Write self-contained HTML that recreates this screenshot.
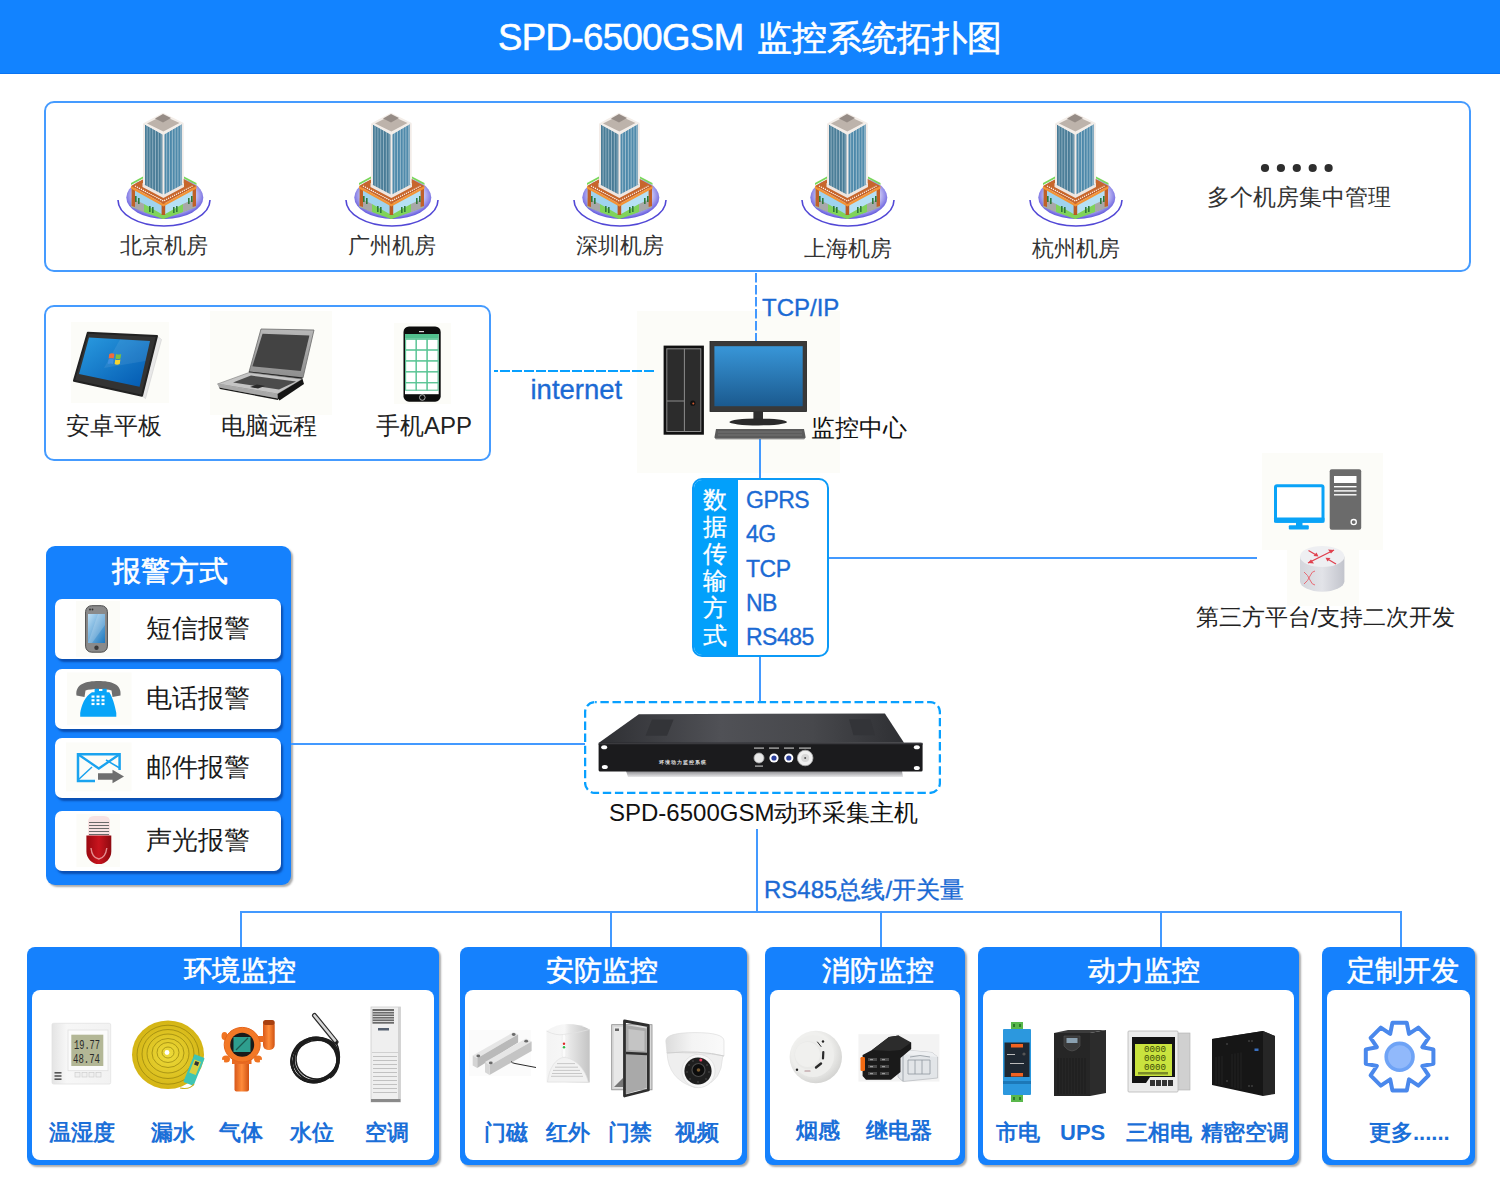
<!DOCTYPE html>
<html><head><meta charset="utf-8">
<style>
*{margin:0;padding:0;box-sizing:border-box}
html,body{width:1500px;height:1200px;overflow:hidden;background:#fff}
body{position:relative;font-family:"Liberation Sans",sans-serif;color:#222}
.a{position:absolute}
.t{position:absolute;white-space:nowrap;line-height:1}
.wb{-webkit-text-stroke:0.6px #fff}
.hdr{left:0;top:0;width:1500px;height:74px;background:#1283ff;border-bottom:1px solid #0a74f2}
.frame{position:absolute;border:2px solid #459bff;border-radius:10px}
.ln{position:absolute;background:#4399ff}
.bbox{position:absolute;top:946.5px;height:218.5px;background:#1581fd;border-radius:8px;box-shadow:2px 2px 2px rgba(0,0,0,.33)}
.bbox .inner{position:absolute;left:5px;right:5px;top:43px;bottom:5px;background:#fff;border-radius:8px}
.bbox .ttl{position:absolute;left:0;right:0;top:9px;text-align:center;color:#fff;font-size:27.5px;line-height:30px;white-space:nowrap;-webkit-text-stroke:0.6px #fff}
.lab{position:absolute;color:#1b6fd8;font-weight:bold;font-size:22px;line-height:1;white-space:nowrap}
.item{position:absolute;left:9px;width:226px;height:60px;background:#fff;border-radius:7px;box-shadow:2px 3px 2px rgba(0,40,120,.55)}
.item .tx{position:absolute;left:91px;top:17px;font-size:25.5px;line-height:1;color:#1a1a1a;white-space:nowrap}
.bl{color:#1b6ad4;-webkit-text-stroke:0.35px #1b6ad4}
.cap{color:#333;font-size:22px}
.imgbg{position:absolute;background:#fcfcf8}
</style></head><body>


<svg width="0" height="0" style="position:absolute">
<defs>
  <pattern id="stripeL" patternUnits="userSpaceOnUse" width="2.8" height="10">
    <rect width="2.9" height="10" fill="#487b96"/><rect x="1.8" width="1.1" height="10" fill="#8fb0c1"/>
  </pattern>
  <pattern id="stripeR" patternUnits="userSpaceOnUse" width="2.8" height="10">
    <rect width="2.9" height="10" fill="#4c88aa"/><rect x="1.8" width="1.1" height="10" fill="#9bbccd"/>
  </pattern>
  <radialGradient id="disc" cx="50%" cy="45%" r="55%">
    <stop offset="0.6" stop-color="#ffffff"/><stop offset="1" stop-color="#5a50dc"/>
  </radialGradient>
  <symbol id="bld" viewBox="0 0 100 124">
    <path d="M4 92 A46 26 0 0 0 96 92" fill="none" stroke="#5248d6" stroke-width="1.6"/>
    <ellipse cx="50.8" cy="89.5" rx="38.5" ry="21.5" fill="url(#disc)"/>
    <!-- pavement / ground -->
    <polygon points="17.6,99 49.4,111 82,99 82,96 49.4,108 17.6,96" fill="#6cc84c"/>
    <!-- podium faces -->
    <polygon points="17.6,79 49.4,96 49.4,107 17.6,99" fill="#9fd3ee"/>
    <polygon points="49.4,96 82,79 82,99 49.4,107" fill="#b6e0f4"/>
    <polygon points="17.6,90 30,96 30,104 17.6,99" fill="#a8a8a8"/>
    <polygon points="69,96 82,90 82,99 69,104" fill="#a8a8a8"/>
    <polygon points="30,96 49.4,107 69,96 69,104 49.4,111 30,104" fill="#7fd35a"/>
    <rect x="47.6" y="95" width="3.6" height="12" fill="#b85a24"/>
    <polygon points="17.6,78 21,79.5 21,99 17.6,98" fill="#c06028"/>
    <polygon points="82,78 78.6,79.5 78.6,99 82,98" fill="#c06028"/>
    <g fill="#2f7a3a"><rect x="21" y="88" width="1.6" height="6"/><rect x="24" y="90" width="1.6" height="6"/><rect x="35" y="98" width="1.6" height="6"/><rect x="38" y="99" width="1.6" height="6"/><rect x="59" y="99" width="1.6" height="6"/><rect x="62" y="98" width="1.6" height="6"/><rect x="74" y="90" width="1.6" height="6"/><rect x="77" y="88" width="1.6" height="6"/></g>
    <!-- podium top -->
    <polygon points="17,78 49.4,60 82.5,78 49.4,96" fill="#c7662c"/>
    <polygon points="17,78 49.4,96 82.5,78 82.5,80.5 49.4,98.5 17,80.5" fill="#f49334"/>
    <polyline points="21,78 49.4,93 78.5,78" fill="none" stroke="#ffffff" stroke-width="1.2" stroke-dasharray="1.2 1"/>
    <polygon points="17,75 29,68.5 29,70.5 17,77" fill="#79d65a"/>
    <polygon points="82.5,75 70,68.5 70,70.5 82.5,77" fill="#79d65a"/>
    <!-- tower base -->
    <polygon points="28.5,75 49.4,86 70,75 70,79 49.4,90 28.5,79" fill="#efe6e0"/>
    <!-- tower faces -->
    <polygon points="30,16 49.4,26.3 49.4,86.8 30,76.4" fill="url(#stripeL)"/>
    <polygon points="49.4,26.3 68.7,15.5 68.7,76.4 49.4,86.8" fill="url(#stripeR)"/>
    <polygon points="48.4,26 50.4,26 50.4,87 48.4,87" fill="#f3ece8"/>
    <polygon points="29,15.5 31,16.5 31,77 29,76" fill="#f3ece8"/>
    <polygon points="67.7,16 69.7,15 69.7,76 67.7,77" fill="#f3ece8"/>
    <!-- roof -->
    <polygon points="29,15.5 49,4.8 69.7,15 49.4,27" fill="#f4eee9"/>
    <polygon points="33,15.5 49,7.5 65.5,15 49.4,23.5" fill="#bdb3ab"/>
    <polygon points="41,10.5 49,6 57,10 49,14.5" fill="#968c86"/>
  </symbol>
</defs>
</svg>

<!-- header -->
<div class="a hdr"></div>
<div class="t wb" style="left:498px;top:20px;color:#fff;font-size:36.5px;letter-spacing:-0.55px">SPD-6500GSM</div>
<div class="t wb" style="left:757px;top:20px;color:#fff;font-size:35.3px">监控系统拓扑图</div>

<div class="imgbg" style="left:637px;top:311px;width:203px;height:162px"></div>
<div class="imgbg" style="left:1262px;top:453px;width:121px;height:97px"></div>
<div class="imgbg" style="left:1287px;top:550px;width:72px;height:56px"></div>
<div class="imgbg" style="left:71px;top:322px;width:98px;height:81px"></div>
<div class="imgbg" style="left:210px;top:311px;width:122px;height:104px"></div>
<div class="imgbg" style="left:394px;top:323px;width:57px;height:81px"></div>
<!-- box 1 -->
<div class="frame" style="left:44px;top:101px;width:1427px;height:171px"></div>
<svg class="a" style="left:114px;top:108px" width="100" height="124" viewBox="0 0 100 124"><use href="#bld"/></svg>
<svg class="a" style="left:342px;top:108px" width="100" height="124" viewBox="0 0 100 124"><use href="#bld"/></svg>
<svg class="a" style="left:570px;top:108px" width="100" height="124" viewBox="0 0 100 124"><use href="#bld"/></svg>
<svg class="a" style="left:798px;top:108px" width="100" height="124" viewBox="0 0 100 124"><use href="#bld"/></svg>
<svg class="a" style="left:1026px;top:108px" width="100" height="124" viewBox="0 0 100 124"><use href="#bld"/></svg>
<div class="t cap" style="left:120px;top:235px">北京机房</div>
<div class="t cap" style="left:348px;top:235px">广州机房</div>
<div class="t cap" style="left:576px;top:235px">深圳机房</div>
<div class="t cap" style="left:804px;top:238px">上海机房</div>
<div class="t cap" style="left:1032px;top:238px">杭州机房</div>
<svg class="a" style="left:1255px;top:160px" width="85" height="16"><g fill="#2e2e2e"><circle cx="10" cy="8" r="4.1"/><circle cx="25.9" cy="8" r="4.1"/><circle cx="41.8" cy="8" r="4.1"/><circle cx="57.7" cy="8" r="4.1"/><circle cx="73.6" cy="8" r="4.1"/></g></svg>
<div class="t cap" style="left:1207px;top:187px;font-size:22.5px">多个机房集中管理</div>

<!-- TCP/IP dashed vertical -->
<svg class="a" style="left:0;top:0" width="1500" height="1200">
  <line x1="756" y1="273" x2="756" y2="341" stroke="#4399ff" stroke-width="2" stroke-dasharray="9.5 2.5"/>
  <line x1="494" y1="371" x2="654" y2="371" stroke="#08a0ff" stroke-width="2.2" stroke-dasharray="10 2" stroke-dashoffset="6"/>
</svg>
<div class="t bl" style="left:762px;top:296px;font-size:24px">TCP/IP</div>

<!-- box 2 -->
<div class="frame" style="left:44px;top:305px;width:447px;height:156px"></div>
<div class="t" style="left:66px;top:414px;font-size:24px;color:#222">安卓平板</div>
<div class="t" style="left:221px;top:414px;font-size:24px;color:#222">电脑远程</div>
<div class="t" style="left:376px;top:414px;font-size:24px;color:#222">手机APP</div>
<div class="t bl" style="left:530.5px;top:376px;font-size:27.5px">internet</div>

<!-- computer center -->
<div class="t" style="left:811px;top:416px;font-size:24px;color:#111">监控中心</div>
<div class="ln" style="left:759px;top:439px;width:2px;height:40px"></div>

<!-- data box -->
<div class="a" style="left:692px;top:478px;width:137px;height:179px;border:2px solid #0b9af7;border-radius:10px;background:#fff;overflow:hidden">
  <div class="a" style="left:0;top:0;width:44px;height:100%;background:#02a0fb"></div>
  <div class="t" style="-webkit-text-stroke:0.3px #fff;left:9px;top:5.5px;width:26px;color:#fff;font-size:24px;line-height:27.2px;white-space:normal">数据传输方式</div>
  <div class="t bl" style="left:52px;top:3px;font-size:23px;line-height:34.3px;letter-spacing:-0.5px">GPRS<br>4G<br>TCP<br>NB<br>RS485</div>
</div>
<div class="ln" style="left:829px;top:557px;width:428px;height:2px"></div>
<div class="ln" style="left:759px;top:657px;width:2px;height:45px"></div>

<!-- third party -->
<div class="t" style="left:1196px;top:605.5px;font-size:23.2px;color:#222">第三方平台/支持二次开发</div>

<!-- alarm -->
<div class="a" style="left:46px;top:546px;width:245px;height:339px;background:#1581fd;border-radius:9px;box-shadow:2px 2px 2px rgba(0,0,0,.33)">
  <div class="t wb" style="left:66px;top:11px;font-size:28.5px;color:#fff">报警方式</div>
  <div class="item" style="top:53px"><div class="tx">短信报警</div></div>
  <div class="item" style="top:123px"><div class="tx">电话报警</div></div>
  <div class="item" style="top:192px"><div class="tx">邮件报警</div></div>
  <div class="item" style="top:265px"><div class="tx">声光报警</div></div>
</div>
<div class="ln" style="left:291px;top:743px;width:294px;height:2px"></div>

<!-- host -->
<svg class="a" style="left:584px;top:701px" width="357" height="93">
  <rect x="1.1" y="1.1" width="354.8" height="90.8" rx="10" fill="none" stroke="#08a0ff" stroke-width="2.3" stroke-dasharray="8.4 3.7" stroke-dashoffset="6.8"/>
</svg>
<div class="t" style="left:609px;top:801px;font-size:24px;color:#111">SPD-6500GSM动环采集主机</div>
<div class="ln" style="left:756px;top:829px;width:2px;height:83px"></div>
<div class="t bl" style="left:764px;top:877.5px;font-size:24px">RS485总线/开关量</div>

<!-- bus -->
<div class="ln" style="left:240px;top:911px;width:1162px;height:2px"></div>
<div class="ln" style="left:240px;top:911px;width:2px;height:36px"></div>
<div class="ln" style="left:610px;top:911px;width:2px;height:36px"></div>
<div class="ln" style="left:880px;top:911px;width:2px;height:36px"></div>
<div class="ln" style="left:1160px;top:911px;width:2px;height:36px"></div>
<div class="ln" style="left:1400px;top:911px;width:2px;height:36px"></div>

<!-- bottom boxes -->
<div class="bbox" style="left:27px;width:412px"><div class="ttl" style="transform:translateX(7px)">环境监控</div><div class="inner"></div></div>
<div class="bbox" style="left:460px;width:287px"><div class="ttl" style="transform:translateX(-1.5px)">安防监控</div><div class="inner"></div></div>
<div class="bbox" style="left:765px;width:200px"><div class="ttl" style="transform:translateX(13px)">消防监控</div><div class="inner"></div></div>
<div class="bbox" style="left:978px;width:321px"><div class="ttl" style="transform:translateX(5px)">动力监控</div><div class="inner"></div></div>
<div class="bbox" style="left:1322px;width:153px"><div class="ttl" style="transform:translateX(4.5px)">定制开发</div><div class="inner"></div></div>

<div class="lab" style="left:49px;top:1122px">温湿度</div>
<div class="lab" style="left:151px;top:1122px">漏水</div>
<div class="lab" style="left:219px;top:1122px">气体</div>
<div class="lab" style="left:290px;top:1122px">水位</div>
<div class="lab" style="left:365px;top:1122px">空调</div>

<div class="lab" style="left:484px;top:1122px">门磁</div>
<div class="lab" style="left:546px;top:1122px">红外</div>
<div class="lab" style="left:608px;top:1122px">门禁</div>
<div class="lab" style="left:675px;top:1122px">视频</div>

<div class="lab" style="left:796px;top:1120px">烟感</div>
<div class="lab" style="left:866px;top:1120px">继电器</div>

<div class="lab" style="left:996px;top:1122px">市电</div>
<div class="lab" style="left:1060px;top:1122px">UPS</div>
<div class="lab" style="left:1126px;top:1122px">三相电</div>
<div class="lab" style="left:1201px;top:1122px">精密空调</div>

<div class="lab" style="left:1369px;top:1122px">更多......</div>


<!-- ICONS OVERLAY -->
<svg class="a" style="left:0;top:0" width="1500" height="1200" viewBox="0 0 1500 1200">
<defs>
  <linearGradient id="tabscr" x1="0" y1="0" x2="1" y2="1">
    <stop offset="0" stop-color="#2a9be0"/><stop offset="1" stop-color="#0258b0"/>
  </linearGradient>
  <linearGradient id="monscr" x1="0" y1="0" x2="0" y2="1">
    <stop offset="0" stop-color="#3896d8"/><stop offset="1" stop-color="#1b5a8f"/>
  </linearGradient>
  <linearGradient id="lidg" x1="0" y1="0" x2="0" y2="1">
    <stop offset="0" stop-color="#b8b8b8"/><stop offset="1" stop-color="#8e8e8e"/>
  </linearGradient>
</defs>
<!-- tablet -->
<g id="tablet">
  <polygon points="157,336 161.5,339.5 145.5,398.5 142,395.8" fill="#e8e8e8" stroke="#cfcfcf" stroke-width="0.6"/>
  <polygon points="87.8,332.8 157,336 142,395.8 73.9,380.7" fill="#333333" stroke="#222" stroke-width="2" stroke-linejoin="round"/>
  <polygon points="89,337.6 150,341 139.6,386.7 79,374" fill="url(#tabscr)"/>
  <polygon points="120,339.4 150,341 145.5,361 104,368" fill="#ffffff" opacity="0.08"/>
  <g transform="translate(114.5,359) scale(0.85) skewX(-8)">
    <path d="M-7,-6 q3,-1.5 6,0 v5.5 q-3,-1.5 -6,0z" fill="#f26c3a"/>
    <path d="M1,-6 q3,1.5 6,0 v5.5 q-3,1.5 -6,0z" fill="#7bc043"/>
    <path d="M-7,0.5 q3,-1.5 6,0 v5.5 q-3,-1.5 -6,0z" fill="#3d8fe0"/>
    <path d="M1,0.5 q3,1.5 6,0 v5.5 q-3,1.5 -6,0z" fill="#f7d330"/>
  </g>
</g>
<!-- laptop -->
<g id="laptop">
  <polygon points="261,329 314,330 303,377.8 249,372" fill="url(#lidg)" stroke="#6a6a6a" stroke-width="0.8" stroke-linejoin="round"/>
  <polygon points="262.5,333.7 309.4,335.6 300.8,371 252.4,366.3" fill="#434343"/>
  <polygon points="249,371.5 302.5,377.5 302,380 249,374" fill="#1e1e1e"/>
  <polygon points="217.5,384 249,372.5 302.5,379 277.5,394" fill="#c4c4c4" stroke="#7a7a7a" stroke-width="0.6" stroke-linejoin="round"/>
  <polygon points="233,382.5 251,375.5 296,381.5 279,389.5" fill="#4c4c4c"/>
  <polygon points="250,387 257,384.5 265,386 258,388.5" fill="#2a2a2a"/>
  <polygon points="217.5,384 277.5,394 278,398.5 219,387.5" fill="#a8a8a8"/>
  <polygon points="219,387.5 278,398.5 278,400 220,389" fill="#1a1a1a"/>
  <polygon points="277.5,394 302.5,379 304,384 279.5,400.5 277.8,398.5" fill="#151515"/>
</g>
<!-- phone app -->
<g id="phone">
  <rect x="403.5" y="326.5" width="37.2" height="75.2" rx="5.5" fill="#0d0d0d"/>
  <rect x="405" y="334" width="33.7" height="60.2" fill="#fff"/>
  <rect x="405" y="334" width="33.7" height="4.8" fill="#52c08e"/>
  <g fill="none" stroke="#5cc596" stroke-width="1.1">
    <rect x="405.6" y="339.3" width="10.6" height="10.7"/><rect x="416.2" y="339.3" width="10.9" height="10.7"/><rect x="427.1" y="339.3" width="11" height="10.7"/>
    <rect x="405.6" y="350" width="10.6" height="10.9"/><rect x="416.2" y="350" width="10.9" height="10.9"/><rect x="427.1" y="350" width="11" height="10.9"/>
    <rect x="405.6" y="360.9" width="10.6" height="10.9"/><rect x="416.2" y="360.9" width="10.9" height="10.9"/><rect x="427.1" y="360.9" width="11" height="10.9"/>
    <rect x="405.6" y="371.8" width="10.6" height="10.9"/><rect x="416.2" y="371.8" width="10.9" height="10.9"/><rect x="427.1" y="371.8" width="11" height="10.9"/>
    <rect x="405.6" y="382.7" width="10.6" height="7.5"/><rect x="416.2" y="382.7" width="10.9" height="7.5"/><rect x="427.1" y="382.7" width="11" height="7.5"/>
  </g>
  <rect x="419" y="331" width="5" height="1.2" fill="#ddd"/>
  <circle cx="422.3" cy="397.5" r="2.8" fill="none" stroke="#cfcfcf" stroke-width="0.8"/>
</g>
<!-- monitoring center computer -->
<g id="pc">
  <rect x="663.6" y="345.6" width="40.3" height="89.1" fill="#111"/>
  <rect x="666.8" y="348.8" width="34" height="82.7" fill="#2c2c2c" stroke="#8c8c8c" stroke-width="1"/>
  <line x1="684.4" y1="348.8" x2="684.4" y2="431.5" stroke="#8c8c8c" stroke-width="1"/>
  <line x1="666.8" y1="401" x2="684.4" y2="401" stroke="#8c8c8c" stroke-width="1"/>
  <circle cx="692.8" cy="403.2" r="2.6" fill="#111"/><circle cx="693.3" cy="403.6" r="1" fill="#d05a30"/>
  <rect x="710" y="341.4" width="96.6" height="70.2" fill="#393939" stroke="#222" stroke-width="0.8"/>
  <rect x="714.4" y="346.2" width="88.3" height="60" fill="url(#monscr)"/>
  <rect x="753.4" y="411.6" width="9.6" height="7.8" fill="#2f2f2f"/>
  <ellipse cx="758.2" cy="422" rx="28.8" ry="3.4" fill="#2a2a2a"/>
  <polygon points="716,429 804,429 805.7,437.5 804,439.2 716,439.2 714.4,437.5" fill="#5b5b5b"/>
  <g stroke="#8a8a8a" stroke-width="0.7" opacity="0.8"><line x1="718" y1="432" x2="802" y2="432"/><line x1="718" y1="435" x2="802" y2="435"/></g>
  <line x1="715" y1="438.6" x2="805" y2="438.6" stroke="#999" stroke-width="0.8"/>
</g>

<!-- third party -->
<g id="third">
  <rect x="1275.5" y="485.8" width="47.5" height="35.5" rx="1.5" fill="#fff" stroke="#0aa3f7" stroke-width="3"/>
  <rect x="1274" y="517.5" width="50.5" height="5.3" rx="1" fill="#0aa3f7"/>
  <rect x="1296" y="522" width="6.5" height="4" fill="#0aa3f7"/>
  <rect x="1288.8" y="525.3" width="20" height="4.2" rx="1" fill="#0aa3f7"/>
  <rect x="1329.7" y="469.2" width="31.5" height="60.6" rx="2" fill="#6b6b6b"/>
  <rect x="1334" y="476" width="22.5" height="7" fill="#fff"/>
  <rect x="1334" y="486" width="22.5" height="1.4" fill="#fff"/>
  <rect x="1334" y="490.2" width="22.5" height="1.4" fill="#fff"/>
  <rect x="1334" y="494.1" width="22.5" height="1.4" fill="#fff"/>
  <circle cx="1353.7" cy="522.1" r="2.6" fill="none" stroke="#fff" stroke-width="1.3"/>
  <defs><linearGradient id="cyl" x1="0" y1="0" x2="1" y2="0"><stop offset="0" stop-color="#d4d6dc"/><stop offset="0.5" stop-color="#e2e3e8"/><stop offset="1" stop-color="#c2c4cc"/></linearGradient></defs>
  <path d="M1300,556.5 V581.2 A22.2,10.5 0 0 0 1344.4,581.2 V556.5 Z" fill="url(#cyl)"/>
  <ellipse cx="1322.2" cy="556.5" rx="22.2" ry="10.5" fill="#eeeff2"/>
  <g stroke="#e0404e" stroke-width="1.3" fill="#e0404e">
    <line x1="1308" y1="563" x2="1334" y2="550"/>
    <polygon points="1334,550 1328,549.5 1331,553.5" stroke="none"/>
    <polygon points="1308,563 1314,563.5 1311,559.5" stroke="none"/>
    <line x1="1308.5" y1="550.5" x2="1317" y2="555.5"/>
    <polygon points="1318.5,556.5 1313.5,556 1316.5,552.5" stroke="none"/>
    <line x1="1336" y1="564" x2="1327.5" y2="559"/>
    <polygon points="1325.5,557.8 1330.5,558 1327.5,561.5" stroke="none"/>
  </g>
  <g stroke="#e86a74" stroke-width="1" fill="none"><path d="M1304,572 q4,3 6,8 t5,5"/><path d="M1304,584 q4,-3 6,-8 t5,-5"/></g>
</g>

<!-- alarm icons -->
<defs>
  <linearGradient id="smsscr" x1="0" y1="0" x2="1" y2="1"><stop offset="0" stop-color="#bfe0f5"/><stop offset="1" stop-color="#1c78bf"/></linearGradient>
  <linearGradient id="sirg" x1="0" y1="0" x2="1" y2="0"><stop offset="0" stop-color="#9a0810"/><stop offset="0.5" stop-color="#c8141e"/><stop offset="1" stop-color="#8e0a10"/></linearGradient>
</defs>
<rect x="76" y="601" width="44" height="56" fill="#fcfcf8"/>
<rect x="85.6" y="605.7" width="21.8" height="46.5" rx="6" fill="#8a8a8a" stroke="#4a4a4a" stroke-width="1"/>
<rect x="88" y="614" width="17" height="29" fill="url(#smsscr)"/>
<polygon points="98,614 105,614 105,625 92,643 88,643" fill="#fff" opacity="0.18"/>
<circle cx="96.5" cy="647.8" r="2.2" fill="#3a3a3a"/>
<circle cx="90" cy="609.5" r="0.9" fill="#333"/><circle cx="92.5" cy="609.5" r="0.9" fill="#333"/>

<rect x="67" y="672.5" width="64.5" height="52.7" fill="#fcfcf8"/>
<path d="M76.5,695.5 C75,684 86,681 98.5,681 C111,681 122,684 120.5,695.5 L112.5,697 L111.5,690.5 C106,688.5 91,688.5 85.5,690.5 L84.5,697 Z" fill="#6e6e6e"/>
<path d="M92,692.2 L94.6,692.2 L94.6,688.8 L99,688.8 L99,691 L102.4,691 L102.4,688.8 L106.7,688.8 L106.7,692.2 L109.3,692.2 C112,696 115,705 116.3,713 L116.3,716.8 L80.2,716.8 L80.2,713 C81.5,705 85,696 92,692.2 Z" fill="#08a4f8"/>
<g fill="#fff"><rect x="91.5" y="695.5" width="3" height="2.2"/><rect x="96.5" y="695.5" width="3" height="2.2"/><rect x="101.5" y="695.5" width="3" height="2.2"/><rect x="91.5" y="699.2" width="3" height="2.2"/><rect x="96.5" y="699.2" width="3" height="2.2"/><rect x="101.5" y="699.2" width="3" height="2.2"/><rect x="91.5" y="702.9" width="3" height="2.2"/><rect x="96.5" y="702.9" width="3" height="2.2"/><rect x="101.5" y="702.9" width="3" height="2.2"/></g>

<rect x="66" y="742.4" width="65.5" height="49" fill="#fcfcf8"/>
<path d="M95,781 H78 V754.2 H119.6 V770" fill="none" stroke="#1aa3ef" stroke-width="2.5"/>
<path d="M78,754.2 L98.8,768.5 L119.6,754.2" fill="none" stroke="#1aa3ef" stroke-width="2.3"/>
<path d="M78,780 L92,767 M119.6,768 L106,760" fill="none" stroke="#1aa3ef" stroke-width="1.5"/>
<path d="M98,773.2 H112.5 V769.8 L124,776.5 L112.5,783.2 V779.8 H98 Z" fill="#6f6f6f"/>

<rect x="76.5" y="814" width="43.5" height="53" fill="#fcfcf8"/>
<path d="M88,836 V822 Q88,816 94,816 H104 Q110,816 110,822 V836 Z" fill="#f8e2e2"/>
<g fill="#6a6a6a"><rect x="89" y="822" width="20" height="1"/><rect x="89" y="825" width="20" height="1"/><rect x="89" y="828" width="20" height="1"/><rect x="89" y="831" width="20" height="1"/><rect x="89" y="834" width="20" height="1"/></g>
<path d="M86.4,835.4 H111.3 V851.6 A12.45,12.45 0 0 1 86.4,851.6 Z" fill="url(#sirg)"/>
<path d="M91,848 Q92,858 98.8,859 Q105.5,858 106.8,848" fill="none" stroke="#f3b0b0" stroke-width="1.4" opacity="0.8"/>

<!-- host device -->
<defs>
  <linearGradient id="hosttop" x1="0" y1="0" x2="1" y2="0"><stop offset="0" stop-color="#2e2f33"/><stop offset="0.4" stop-color="#505156"/><stop offset="0.7" stop-color="#47484c"/><stop offset="1" stop-color="#2e2f33"/></linearGradient>
  <linearGradient id="hostshadow" x1="0" y1="0" x2="0" y2="1"><stop offset="0" stop-color="#8a8a8e"/><stop offset="1" stop-color="#e8e8ea"/></linearGradient>
</defs>
<polygon points="626,771 902,771 903,777 628,777" fill="url(#hostshadow)"/>
<polygon points="638.8,714.2 884.9,713.5 904,742.8 598.6,743" fill="url(#hosttop)"/>
<polygon points="652,719.6 673.6,719.6 667,735.8 645.5,735.8" fill="#333438"/>
<polygon points="849,719.2 870.5,719.2 875,735.2 853.5,735.2" fill="#333438"/>
<rect x="598.6" y="742.8" width="324" height="28.8" rx="1.5" fill="#1b1b1d"/>
<rect x="598.6" y="742.8" width="324" height="1.5" fill="#3a3a3e"/>
<g fill="#fff"><ellipse cx="604.2" cy="747.3" rx="3" ry="2"/><ellipse cx="604.8" cy="767" rx="3" ry="2"/><ellipse cx="916.8" cy="747.3" rx="3" ry="2"/><ellipse cx="916.8" cy="768" rx="3" ry="2"/></g>
<text x="658.5" y="763.5" font-size="5.2" fill="#e8e8e8" font-weight="bold" textLength="47">环境动力监控系统</text>
<circle cx="759" cy="758" r="5" fill="#e8e8e8" stroke="#aaa" stroke-width="0.8"/>
<circle cx="774" cy="758" r="4.6" fill="#fff"/><circle cx="774" cy="758" r="2.6" fill="#2a3e9a"/>
<circle cx="788.8" cy="758" r="4.6" fill="#fff"/><circle cx="788.8" cy="758" r="2.6" fill="#2a3e9a"/>
<circle cx="805.2" cy="758" r="7.8" fill="#f0f0f0" stroke="#aaa" stroke-width="0.8"/><circle cx="805.2" cy="758" r="4" fill="#d8d8d8"/><circle cx="805.2" cy="758" r="1" fill="#555"/>
<g fill="#bbb"><rect x="754" y="747.5" width="10" height="1.2"/><rect x="769" y="747.5" width="10" height="1.2"/><rect x="784" y="747.5" width="10" height="1.2"/><rect x="799" y="747.5" width="12" height="1.2"/><rect x="755" y="765.5" width="8" height="1.2"/></g>

<!-- ===== bottom icons ===== -->
<defs>
  <linearGradient id="thbody" x1="0" y1="0" x2="1" y2="0"><stop offset="0" stop-color="#e4e4e4"/><stop offset="0.25" stop-color="#f7f7f7"/><stop offset="1" stop-color="#f2f2f2"/></linearGradient>
  <radialGradient id="coil" cx="50%" cy="50%" r="50%"><stop offset="0" stop-color="#eedc3a"/><stop offset="1" stop-color="#d4b414"/></radialGradient>
  <linearGradient id="orng" x1="0" y1="0" x2="1" y2="0"><stop offset="0" stop-color="#d8581a"/><stop offset="0.5" stop-color="#ff8c3a"/><stop offset="1" stop-color="#d05212"/></linearGradient>
  <radialGradient id="smk" cx="42%" cy="40%" r="62%"><stop offset="0.6" stop-color="#f0f0ee"/><stop offset="1" stop-color="#d4d4d2"/></radialGradient>
  <linearGradient id="dome" x1="0" y1="0" x2="0" y2="1"><stop offset="0" stop-color="#fafafa"/><stop offset="1" stop-color="#d8d8d8"/></linearGradient>
  <linearGradient id="pir" x1="0" y1="0" x2="1" y2="0"><stop offset="0" stop-color="#f6f6f6"/><stop offset="0.6" stop-color="#ececec"/><stop offset="1" stop-color="#c8c8c8"/></linearGradient>
  <linearGradient id="bar" x1="0" y1="0" x2="0" y2="1"><stop offset="0" stop-color="#e2e2e2"/><stop offset="1" stop-color="#a9a9a9"/></linearGradient>
</defs>

<!-- temp humidity -->
<rect x="52" y="1023.3" width="58.7" height="60.7" rx="1.5" fill="url(#thbody)" stroke="#e2e2e2" stroke-width="0.8"/>
<rect x="68" y="1030" width="40" height="40.7" fill="#fbfbfb" stroke="#e0e0e0" stroke-width="0.8"/>
<rect x="71.3" y="1034.7" width="32" height="31.3" fill="#b3b796"/>
<text x="74" y="1049" font-family="Liberation Mono" font-size="13" fill="#2a2a2a" textLength="26" lengthAdjust="spacingAndGlyphs">19.77</text>
<text x="73" y="1063" font-family="Liberation Mono" font-size="13" fill="#2a2a2a" textLength="27" lengthAdjust="spacingAndGlyphs">48.74</text>
<g fill="#f0f0f0" stroke="#c8c8c8" stroke-width="0.6"><rect x="75" y="1072.5" width="5" height="4.5"/><rect x="82" y="1072.5" width="5" height="4.5"/><rect x="89" y="1072.5" width="5" height="4.5"/><rect x="96" y="1072.5" width="5" height="4.5"/></g>
<g fill="#555"><rect x="54.5" y="1072" width="7" height="1.6"/><rect x="54.5" y="1075.2" width="7" height="1.6"/><rect x="54.5" y="1078.4" width="7" height="1.6"/></g>

<!-- leak coil -->
<ellipse cx="168" cy="1054.7" rx="36" ry="34.3" fill="url(#coil)"/>
<g fill="none" stroke="#8c7a0c" stroke-width="0.8" opacity="0.8">
  <ellipse cx="168" cy="1054.7" rx="31" ry="29.5"/><ellipse cx="168" cy="1054" rx="26" ry="24.5"/><ellipse cx="168" cy="1053.5" rx="21" ry="19.5"/><ellipse cx="168" cy="1053" rx="16" ry="14.5"/><ellipse cx="168" cy="1052.5" rx="11" ry="10"/><ellipse cx="168" cy="1052.5" rx="6" ry="5.5"/>
</g>
<circle cx="167" cy="1052.5" r="2.4" fill="#fff"/>
<g transform="translate(194,1070) rotate(22)">
  <rect x="-5.5" y="-15" width="11" height="30" rx="1" fill="#3ec4b4"/>
  <rect x="-3.5" y="-10" width="7" height="14" fill="#d8d040"/>
  <rect x="-2" y="-9" width="4" height="4" fill="#333"/>
</g>
<path d="M180,1088 q10,2 14,-4" fill="none" stroke="#c8b020" stroke-width="1.2"/>

<!-- gas detector -->
<rect x="234.5" y="1062" width="14.5" height="29.6" rx="2" fill="url(#orng)"/>
<rect x="232" y="1058" width="19.5" height="6" fill="#e86a22"/>
<rect x="263" y="1020" width="11.7" height="30" rx="5" fill="url(#orng)"/>
<rect x="263" y="1020" width="11.7" height="5" rx="2.5" fill="#a84010"/>
<rect x="258" y="1036" width="6" height="6" fill="#e86a22"/>
<ellipse cx="224.5" cy="1036" rx="3" ry="4" fill="#f07422"/>
<ellipse cx="226" cy="1059" rx="4" ry="3.5" fill="#f07422"/>
<ellipse cx="258" cy="1059" rx="4" ry="3.5" fill="#f07422"/>
<ellipse cx="242.2" cy="1044.7" rx="18" ry="17.3" fill="#f37826" stroke="#e4641a" stroke-width="1"/>
<circle cx="242.2" cy="1044.7" r="12" fill="#1a1a1a"/>
<rect x="233.5" y="1037" width="17" height="15" fill="#2e9e8e"/>
<line x1="236" y1="1050" x2="248" y2="1038" stroke="#1a5a50" stroke-width="1.3"/>
<circle cx="223" cy="1061" r="1.2" fill="#fff"/><circle cx="261" cy="1061" r="1.2" fill="#fff"/>

<!-- water level -->
<line x1="314.5" y1="1015.5" x2="336" y2="1042" stroke="#2a2a2a" stroke-width="5" stroke-linecap="round"/>
<line x1="314.5" y1="1015.5" x2="335" y2="1040.5" stroke="#d8d8d8" stroke-width="2.6" stroke-linecap="round"/>
<g fill="none" stroke="#1c1c1c" stroke-width="1.5">
  <ellipse cx="315" cy="1061" rx="23" ry="20" transform="rotate(-30 315 1061)"/>
  <ellipse cx="316" cy="1059" rx="22" ry="21.5" transform="rotate(-40 316 1059)"/>
  <ellipse cx="315" cy="1060" rx="24" ry="22.5" transform="rotate(-15 315 1060)"/>
  <ellipse cx="316" cy="1060" rx="22.5" ry="21" transform="rotate(-10 316 1060)"/>
  <ellipse cx="314" cy="1061" rx="23" ry="21.5" transform="rotate(-20 314 1061)"/>
  <ellipse cx="317" cy="1059" rx="21" ry="20" transform="rotate(-5 317 1059)"/>
  <ellipse cx="315" cy="1059" rx="24.5" ry="20.5" transform="rotate(-25 315 1059)"/>
</g>
<path d="M336,1042 C342,1055 340,1072 330,1078" fill="none" stroke="#1c1c1c" stroke-width="1.5"/>

<!-- air conditioner -->
<rect x="371" y="1007" width="29.4" height="95" fill="#efefef" stroke="#cdcdcd" stroke-width="0.8"/>
<rect x="398" y="1007" width="2.4" height="95" fill="#d2d2d2"/>
<rect x="372.5" y="1009" width="21.5" height="14.7" fill="#6a6a6a"/>
<g fill="#d8d8d8"><rect x="372.5" y="1011" width="21.5" height="1"/><rect x="372.5" y="1013.5" width="21.5" height="1"/><rect x="372.5" y="1016" width="21.5" height="1"/><rect x="372.5" y="1018.5" width="21.5" height="1"/><rect x="372.5" y="1021" width="21.5" height="1"/></g>
<rect x="378" y="1028" width="11" height="2.5" fill="#556070"/>
<g fill="#bcbcbc"><rect x="373" y="1056" width="24" height="0.9"/><rect x="373" y="1060" width="24" height="0.9"/><rect x="373" y="1064" width="24" height="0.9"/><rect x="373" y="1068" width="24" height="0.9"/><rect x="373" y="1072" width="24" height="0.9"/><rect x="373" y="1076" width="24" height="0.9"/><rect x="373" y="1080" width="24" height="0.9"/><rect x="373" y="1084" width="24" height="0.9"/><rect x="373" y="1088" width="24" height="0.9"/><rect x="373" y="1092" width="24" height="0.9"/></g>
<rect x="372" y="1052" width="27" height="1" fill="#d0d0d0"/>
<rect x="371" y="1099" width="29.4" height="3" fill="#8a8a8a"/>

<!-- door magnet -->
<rect x="469" y="1030" width="62" height="46" fill="#fbfbfb"/>
<polygon points="472.7,1055.5 513.6,1032.1 518.1,1034.4 477.2,1058.2" fill="#e6e6e6"/>
<polygon points="477.2,1058.2 518.1,1034.4 518.1,1042.5 477.2,1068.1" fill="#b9b9b9"/>
<polygon points="472.7,1055.5 477.2,1058.2 477.2,1068.1 472.7,1065.4" fill="#d4d4d4"/>
<polygon points="485,1062 526,1038.5 531.6,1041.6 490,1065.2" fill="#e6e6e6"/>
<polygon points="490,1065.2 531.6,1041.6 531.6,1051 489.5,1075" fill="#c4c4c4"/>
<polygon points="485,1062 490,1065.2 489.5,1075 485,1072.2" fill="#d6d6d6"/>
<g fill="#6a6a6a"><ellipse cx="478.3" cy="1056" rx="1.9" ry="1.4"/><ellipse cx="513.7" cy="1034.5" rx="1.9" ry="1.4"/><ellipse cx="490.8" cy="1063" rx="1.9" ry="1.4"/><ellipse cx="526.2" cy="1041.2" rx="1.9" ry="1.4"/></g>
<path d="M511,1061.5 q1,1.5 4,2 l21,4" fill="none" stroke="#2a2a2a" stroke-width="1"/>
<!-- PIR -->
<defs><linearGradient id="pir2" x1="0" y1="0" x2="1" y2="0"><stop offset="0" stop-color="#f4f4f4"/><stop offset="0.42" stop-color="#f7f7f7"/><stop offset="0.55" stop-color="#e6e6e6"/><stop offset="1" stop-color="#c4c4c4"/></linearGradient></defs>
<path d="M546.5,1031 Q556,1024 567,1024 Q580,1024 589.7,1029.4 L589.7,1082.5 L546.5,1082.5 Z" fill="url(#pir2)"/>
<path d="M546.5,1031 Q556,1036 564,1034.4 Q578,1033 589.7,1029.4" fill="none" stroke="#e2e2e2" stroke-width="0.8"/>
<rect x="562.2" y="1034.4" width="3.6" height="23" rx="1.5" fill="#fbfbfb" stroke="#e4e4e4" stroke-width="0.5"/>
<circle cx="564" cy="1043.8" r="1.2" fill="#e02828"/><circle cx="564" cy="1047.2" r="1.2" fill="#30b848"/>
<path d="M547.5,1082 C549,1068 556,1058 564,1057.3 C574,1058 585,1068 588.3,1082 Z" fill="#f2f2f2" stroke="#dedede" stroke-width="0.6"/>
<g stroke="#bdbdbd" stroke-width="0.8"><line x1="557" y1="1063.6" x2="575" y2="1063.6"/><line x1="555" y1="1067.2" x2="578" y2="1067.2"/><line x1="553" y1="1070.4" x2="580" y2="1070.4"/><line x1="552" y1="1073.5" x2="582" y2="1073.5"/><line x1="551" y1="1076.3" x2="583" y2="1076.3"/></g>
<!-- door access -->
<rect x="611.7" y="1024.7" width="40.3" height="65.1" fill="#d9d9d9" stroke="#8a8a8a" stroke-width="0.8"/>
<rect x="614" y="1027" width="9" height="60.5" fill="#e8e8e8"/>
<rect x="615" y="1028.5" width="4" height="2.5" fill="#666"/>
<polygon points="614,1087 623,1078 623,1087" fill="#777"/>
<polygon points="626,1025 646.5,1028.5 646.5,1088 626,1094" fill="#a9a9a9"/>
<polygon points="628.5,1029 644.5,1031 644.5,1051 628.5,1050" fill="#c4c4c4"/>
<polygon points="624.5,1021 648.3,1025.5 648.3,1090 624.5,1096" fill="none" stroke="#2e2e2e" stroke-width="2.8" stroke-linejoin="round"/>
<line x1="626" y1="1053" x2="647" y2="1054" stroke="#2e2e2e" stroke-width="2.6"/>

<!-- dome camera -->
<defs><linearGradient id="domeg" x1="0" y1="0" x2="1" y2="0"><stop offset="0" stop-color="#dcdcdc"/><stop offset="0.45" stop-color="#f4f4f4"/><stop offset="1" stop-color="#fafafa"/></linearGradient></defs>
<path d="M667,1052 Q668,1080 695,1087.5 Q716,1086 721,1068 L723,1055 Z" fill="#efefef" stroke="#dadada" stroke-width="0.6"/>
<path d="M665.8,1041 Q665.8,1032.6 695,1032.6 Q724,1032.6 724,1041 L724,1056 Q700,1050 667,1053 Z" fill="url(#domeg)" stroke="#d8d8d8" stroke-width="0.6"/>
<path d="M667,1053 Q700,1050 724,1056" fill="none" stroke="#d0d0d0" stroke-width="1"/>
<circle cx="698.5" cy="1071" r="16.6" fill="#f7f7f7" stroke="#dcdcdc" stroke-width="0.7"/>
<circle cx="698" cy="1071" r="13.6" fill="#1e1e1e"/>
<g fill="#3c3c3c"><circle cx="689" cy="1065" r="1"/><circle cx="707" cy="1065" r="1"/><circle cx="687" cy="1072" r="1"/><circle cx="709" cy="1072" r="1"/><circle cx="690" cy="1079" r="1"/><circle cx="706" cy="1079" r="1"/><circle cx="698" cy="1082" r="1"/><circle cx="693" cy="1061" r="1"/></g>
<circle cx="698.5" cy="1070" r="6.5" fill="#0c0c0c" stroke="#4a4a4a" stroke-width="1.2"/>
<circle cx="698.5" cy="1070" r="1.8" fill="#7a5a30"/>
<circle cx="700.8" cy="1060" r="1.5" fill="#f04060"/>
<!-- smoke detector -->
<circle cx="815.8" cy="1057" r="26.2" fill="url(#smk)"/>
<circle cx="813" cy="1056" r="21" fill="#eeeeec"/>
<circle cx="808.5" cy="1055.3" r="14" fill="#e9e9e7"/>
<circle cx="807.5" cy="1054.5" r="12.5" fill="#f0f0ee"/>
<g fill="#222"><circle cx="823" cy="1041.5" r="1.2"/><circle cx="797" cy="1069.7" r="1.2"/></g>
<g stroke="#2a2a2a" stroke-linecap="round"><line x1="817.5" y1="1042" x2="821" y2="1046.5" stroke-width="1"/><line x1="823.3" y1="1052" x2="823" y2="1058.5" stroke-width="2.2"/><line x1="816" y1="1067.5" x2="821" y2="1063.5" stroke-width="2.4"/><line x1="805" y1="1071" x2="810" y2="1071" stroke="#b08a90" stroke-width="1.2"/></g>
<!-- relay -->
<rect x="858.4" y="1034.2" width="81" height="47.4" fill="#f3f3f3"/>
<polygon points="898,1049.5 932,1052.5 937.6,1057 937.6,1078 903,1081.5 898,1077" fill="#e2e5e8" stroke="#b4b8bc" stroke-width="0.7"/>
<polygon points="898,1049.5 932,1052.5 937.6,1057 903,1054" fill="#eef0f2"/>
<g stroke="#9098a0" stroke-width="0.8" fill="none"><line x1="903" y1="1054" x2="903" y2="1081"/><path d="M908,1060 h22 v14 h-22z"/><line x1="915" y1="1060" x2="915" y2="1074"/><line x1="922" y1="1060" x2="922" y2="1074"/><path d="M910,1057 q10,-3 20,0"/></g>
<polygon points="862.6,1055 872,1050 889,1037 898.6,1035.4 900,1039.6 911.2,1042.6 911.2,1049 900.5,1058 900.5,1072 891,1079.8 866,1079.8 862.6,1076" fill="#1a1a1a"/>
<polygon points="872,1050 889,1037 898.6,1035.4 911.2,1042.6 900.5,1050 889,1051" fill="#2c2c2c"/>
<g fill="#4a4a4a"><rect x="868" y="1058" width="9" height="3"/><rect x="880" y="1058" width="9" height="3"/><rect x="868" y="1065" width="9" height="3"/><rect x="880" y="1065" width="9" height="3"/><rect x="868" y="1072" width="9" height="3"/><rect x="880" y="1072" width="9" height="3"/></g>
<g fill="#9a9a9a"><rect x="870" y="1059" width="3" height="1.2"/><rect x="882" y="1059" width="3" height="1.2"/><rect x="870" y="1066" width="3" height="1.2"/><rect x="882" y="1066" width="3" height="1.2"/><rect x="870" y="1073" width="3" height="1.2"/><rect x="882" y="1073" width="3" height="1.2"/></g>
<rect x="860.5" y="1057" width="4.5" height="14" rx="1.2" fill="#f26a12"/>
<!-- mains module -->
<rect x="1011" y="1022" width="12" height="8" fill="#5ab84c"/>
<rect x="1011" y="1094" width="12" height="8" fill="#5ab84c"/>
<g fill="#2d7a2a"><rect x="1013" y="1024" width="2" height="3"/><rect x="1019" y="1024" width="2" height="3"/><rect x="1013" y="1097" width="2" height="3"/><rect x="1019" y="1097" width="2" height="3"/></g>
<rect x="1003" y="1029" width="28" height="66" rx="1" fill="#2c98de"/>
<rect x="1003" y="1081" width="28" height="3" fill="#1c78b8"/>
<rect x="1004.5" y="1042.5" width="25" height="34.5" fill="#1f2832"/>
<rect x="1011" y="1044" width="12" height="3.5" fill="#f06220"/>
<rect x="1011" y="1073" width="12" height="3.5" fill="#f06220"/>
<g fill="#bbb"><rect x="1007" y="1054" width="8" height="1"/><rect x="1010" y="1063" width="14" height="1"/></g>
<circle cx="1024" cy="1054" r="1.6" fill="#555"/>

<!-- UPS -->
<polygon points="1054,1033 1068,1030 1106,1030 1090,1033" fill="#3c3c3c"/>
<polygon points="1090,1033 1106,1030 1106,1093 1090,1096" fill="#2c2c2c"/>
<rect x="1054" y="1033" width="36" height="63" fill="#262626"/>
<path d="M1064,1036 H1080 V1046 Q1072,1056 1064,1046 Z" fill="#3a3a3a" stroke="#555" stroke-width="0.6"/>
<rect x="1066.5" y="1038" width="11" height="5" fill="#8aa0b0"/>
<g stroke="#1a1a1a" stroke-width="0.6"><line x1="1058" y1="1058" x2="1058" y2="1094"/><line x1="1061" y1="1058" x2="1061" y2="1094"/><line x1="1064" y1="1058" x2="1064" y2="1094"/><line x1="1067" y1="1058" x2="1067" y2="1094"/><line x1="1070" y1="1058" x2="1070" y2="1094"/><line x1="1073" y1="1058" x2="1073" y2="1094"/><line x1="1076" y1="1058" x2="1076" y2="1094"/><line x1="1079" y1="1058" x2="1079" y2="1094"/><line x1="1082" y1="1058" x2="1082" y2="1094"/><line x1="1085" y1="1058" x2="1085" y2="1094"/></g>

<!-- 3-phase meter -->
<rect x="1176" y="1033" width="14" height="57" fill="#d0d0d0" stroke="#b0b0b0" stroke-width="0.6"/>
<rect x="1128" y="1031" width="50" height="61" rx="1" fill="#ececec" stroke="#b8b8b8" stroke-width="0.8"/>
<path d="M1132,1037 H1175 V1077 H1150 L1146,1083 H1132 Z" fill="#141414"/>
<rect x="1135" y="1044" width="37" height="32" fill="#c9e33e"/>
<g font-family="Liberation Mono" font-size="9" fill="#3a4a08"><text x="1144" y="1052" textLength="22" lengthAdjust="spacingAndGlyphs">0000</text><text x="1144" y="1061" textLength="22" lengthAdjust="spacingAndGlyphs">0000</text><text x="1144" y="1070" textLength="22" lengthAdjust="spacingAndGlyphs">0000</text></g>
<rect x="1138" y="1072" width="30" height="2.5" fill="#7a8a28"/>
<g fill="#333"><rect x="1150" y="1080" width="5" height="6"/><rect x="1156" y="1080" width="5" height="6"/><rect x="1162" y="1080" width="5" height="6"/><rect x="1168" y="1080" width="5" height="6"/></g>

<!-- precision AC -->
<polygon points="1212,1039 1263,1031 1275,1036 1224,1043" fill="#2e2e2e"/>
<polygon points="1263,1031 1275,1036 1275,1094 1263,1096" fill="#262626"/>
<polygon points="1212,1039 1263,1031 1263,1096 1212,1085" fill="#161616"/>
<g stroke="#2a2a2a" stroke-width="0.7"><line x1="1216" y1="1057" x2="1216" y2="1084"/><line x1="1219" y1="1056.5" x2="1219" y2="1084.5"/><line x1="1222" y1="1056" x2="1222" y2="1085"/><line x1="1232" y1="1054" x2="1232" y2="1087"/><line x1="1235" y1="1053.5" x2="1235" y2="1088"/><line x1="1238" y1="1053" x2="1238" y2="1088.5"/><line x1="1241" y1="1052.5" x2="1241" y2="1089"/></g>
<rect x="1254.5" y="1048.5" width="4" height="2.5" fill="#3a70c0"/>
<g fill="#666"><circle cx="1227" cy="1044" r="0.7"/><circle cx="1249" cy="1041" r="0.7"/><circle cx="1252" cy="1041" r="0.7"/><circle cx="1227" cy="1081" r="0.7"/><circle cx="1249" cy="1086" r="0.7"/><circle cx="1252" cy="1086" r="0.7"/></g>

<!-- gear -->
<polygon points="1390.2,1033.9 1392.4,1022.8 1406.8,1022.8 1409.0,1033.9 1418.4,1027.6 1428.6,1037.8 1422.3,1047.2 1433.4,1049.4 1433.4,1063.8 1422.3,1066.0 1428.6,1075.4 1418.4,1085.6 1409.0,1079.3 1406.8,1090.4 1392.4,1090.4 1390.2,1079.3 1380.8,1085.6 1370.6,1075.4 1376.9,1066.0 1365.8,1063.8 1365.8,1049.4 1376.9,1047.2 1370.6,1037.8 1380.8,1027.6" fill="#fff" stroke="#4a88ec" stroke-width="4" stroke-linejoin="round"/>
<circle cx="1399.6" cy="1056.8" r="13.4" fill="#91b9fb" stroke="#6ea3f6" stroke-width="3.6"/>
</svg>
</body></html>
